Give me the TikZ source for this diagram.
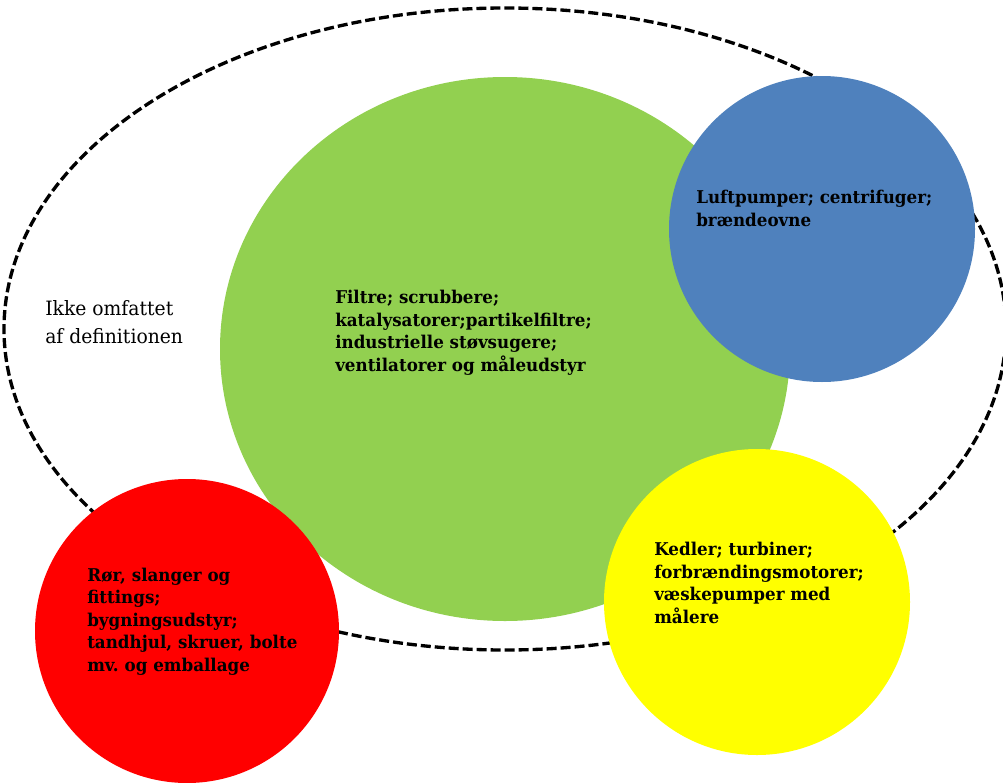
\documentclass[tikz,border=0pt]{standalone}
\usepackage{fontspec}
\setmainfont[FakeStretch=0.95]{DejaVu Serif}
\usetikzlibrary{shapes.geometric}
\frenchspacing
\definecolor{cgreen}{HTML}{92D050}
\definecolor{cblue}{HTML}{4F81BD}
\definecolor{cred}{HTML}{FF0000}
\definecolor{cyellow}{HTML}{FFFF00}
\tikzset{
  disc/.style={circle, draw=none, minimum size=229.5pt, inner sep=0pt},
  label text/.style={anchor=base west, align=left, inner sep=0pt,
    font=\fontsize{13.2}{16.8}\selectfont\bfseries},
  outer text/.style={anchor=base west, align=left, inner sep=0pt,
    font=\fontsize{14.8}{20.5}\selectfont},
}
\begin{document}
\begin{tikzpicture}[x=0.75pt,y=-0.75pt]
\useasboundingbox (0,0) rectangle (1003,782);
\node[ellipse, draw=black, line width=2.5pt, dash pattern=on 7.5pt off 3pt,
  minimum width=751.5pt, minimum height=481.5pt, inner sep=0pt] (scope) at (505,329) {};
\node[ellipse, fill=cgreen, minimum width=427.5pt, minimum height=408pt, inner sep=0pt] (green) at (505,349) {};
\node[disc, fill=cblue] (blue) at (822,229) {};
\node[disc, fill=cyellow] (yellow) at (757,602) {};
\node[disc, fill=cred, minimum size=228pt] (red) at (187,631) {};
\node[outer text] (ikke) at (45,343) {Ikke omfattet\\af definitionen};
\node[label text] (greentext) at (335,371) {Filtre; scrubbere;\\katalysatorer;partikelfiltre;\\industrielle støvsugere;\\ventilatorer og måleudstyr};
\node[label text] (bluetext) at (696,226) {Luftpumper; centrifuger;\\brændeovne};
\node[label text] (redtext) at (87,671) {Rør, slanger og\\fittings;\\bygningsudstyr;\\tandhjul, skruer, bolte\\mv. og emballage};
\node[label text] (yellowtext) at (654,623) {Kedler; turbiner;\\forbrændingsmotorer;\\væskepumper med\\målere};
\end{tikzpicture}
\end{document}
